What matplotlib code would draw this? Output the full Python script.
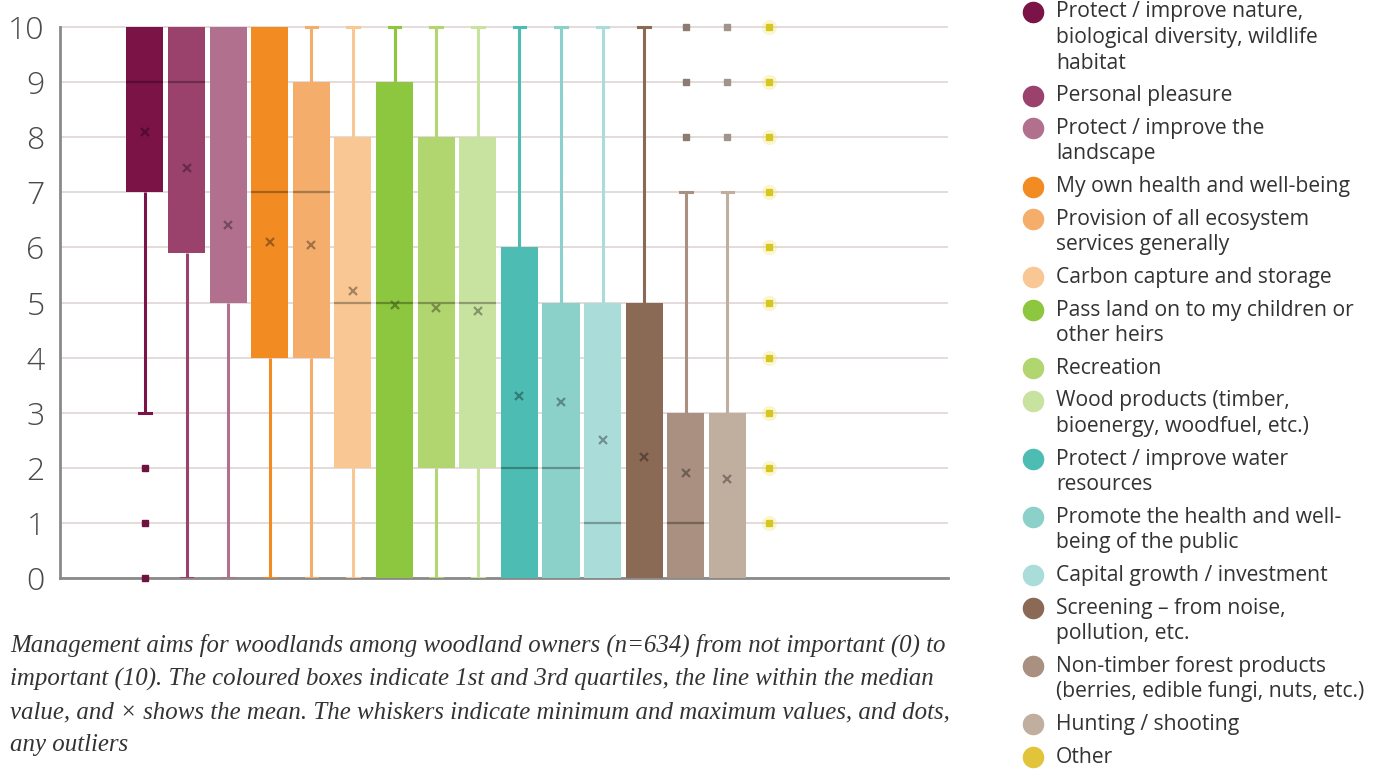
import matplotlib
matplotlib.use("Agg")
from matplotlib import pyplot as plt
from matplotlib.lines import Line2D
import matplotlib.colors as mcolors
import numpy as np

# management aims, one box per aim (scores 0-10)
aims = ["Protect / improve nature,\nbiological diversity, wildlife\nhabitat",
        "Personal pleasure",
        "Protect / improve the\nlandscape",
        "My own health and well-being",
        "Provision of all ecosystem\nservices generally",
        "Carbon capture and storage",
        "Pass land on to my children or\nother heirs",
        "Recreation",
        "Wood products (timber,\nbioenergy, woodfuel, etc.)",
        "Protect / improve water\nresources",
        "Promote the health and well-\nbeing of the public",
        "Capital growth / investment",
        "Screening \u2013 from noise,\npollution, etc.",
        "Non-timber forest products\n(berries, edible fungi, nuts, etc.)",
        "Hunting / shooting",
        "Other"]
aimColors = ["#7b1346", "#9a416c", "#b2708f", "#f28b22", "#f4ad6b", "#f8c794",
             "#8dc63f", "#b1d56f", "#c8e29f", "#4dbdb4", "#8bd1ca", "#aadcd9",
             "#8b6a55", "#a99080", "#c0ae9f", "#e2c43a"]

q1s = [7, 5.9, 5, 4, 4, 2, 0, 2, 2, 0, 0, 0, 0, 0, 0, 0]
q3s = [10, 10, 10, 10, 9, 8, 9, 8, 8, 6, 5, 5, 5, 3, 3, 0]
medians = [9, 9, 5, 7, 7, 5, 5, 5, 5, 2, 2, 1, 0, 1, 0, 0]
means = [8.1, 7.45, 6.4, 6.1, 6.05, 5.2, 4.95, 4.9, 4.85, 3.3, 3.2, 2.5, 2.2,
         1.9, 1.8, None]
whiskerLo = [3, 0, 0, 0, 0, 0, 0, 0, 0, 0, 0, 0, 0, 0, 0, 0]
whiskerHi = [10, 10, 10, 10, 10, 10, 10, 10, 10, 10, 10, 10, 10, 7, 7, 0]
outliers = [[0, 1, 2], [], [], [], [], [], [], [], [], [], [], [], [],
            [8, 9, 10], [8, 9, 10], [1, 2, 3, 4, 5, 6, 7, 8, 9, 10]]
flierColors = {0: "#6e1240", 13: "#8c7b72", 14: "#a0948c", 15: "#d6c61e"}

yTicks = list(range(0, 11))

caption = ("Management aims for woodlands among woodland owners (n=634) from not important (0) to\n"
           "important (10). The coloured boxes indicate 1st and 3rd quartiles, the line within the median\n"
           "value, and \u00d7 shows the mean. The whiskers indicate minimum and maximum values, and dots,\n"
           "any outliers")


def darker(color, f):
    r, g, b = mcolors.to_rgb(color)
    return (r * f, g * f, b * f)


W, H = 1373, 775
fig = plt.figure(figsize=(W / 100, H / 100), dpi=100)
ax = fig.add_axes([60 / W, 1 - 578 / H, 888 / W, (578 - 23.7) / H])

positions = np.arange(1, len(aims) + 1)
stats = []
for i in range(len(aims)):
    stats.append(dict(med=medians[i], q1=q1s[i], q3=q3s[i],
                      whislo=whiskerLo[i], whishi=whiskerHi[i],
                      fliers=outliers[i]))

bp = ax.bxp(stats, positions=positions, widths=0.89, patch_artist=True,
            showfliers=True, capwidths=0.28, manage_ticks=False, zorder=3)

for i, c in enumerate(aimColors):
    bp["boxes"][i].set(facecolor=c, edgecolor="none", linewidth=0)
    # only draw a median line where it sits inside the box
    if q1s[i] < medians[i] < q3s[i]:
        bp["medians"][i].set(color=darker(c, 0.6), linewidth=1.6, alpha=0.75)
    else:
        bp["medians"][i].set_visible(False)
    for w in bp["whiskers"][2 * i:2 * i + 2]:
        w.set(color=c, linewidth=2.2, solid_capstyle="butt")
    for k, cap in enumerate(bp["caps"][2 * i:2 * i + 2]):
        edge = whiskerLo[i] if k == 0 else whiskerHi[i]
        box_edge = q1s[i] if k == 0 else q3s[i]
        cap.set(color=c, linewidth=2.2, visible=edge != box_edge)
    fc = flierColors.get(i, c)
    bp["fliers"][i].set(marker="s", markersize=5, markerfacecolor=fc,
                        markeredgecolor=fc, linestyle="none", clip_on=False)
    if means[i] is not None:
        ax.plot(positions[i], means[i], marker="x", markersize=6,
                markeredgewidth=1.6, color=darker(c, 0.55), alpha=0.75,
                zorder=5)

# faint glow around the yellow dots
ax.plot(np.full(len(outliers[15]), positions[15]), outliers[15], "o",
        markersize=10, color="#f2e46a", alpha=0.25, zorder=2, clip_on=False)

ax.set_xlim(-1.04, 20.3)
ax.set_ylim(0, 10.06)
ax.set_yticks(yTicks)
ax.set_yticklabels([str(t) for t in yTicks], fontsize=23, color="#4a4a4a",
                   family="Open Sans", fontweight="light")
ax.tick_params(axis="y", length=0, pad=11)
ax.set_xticks([])
ax.grid(axis="y", color="#e4dada", linewidth=1.4, zorder=0)
ax.set_axisbelow(True)
for side in ["top", "right"]:
    ax.spines[side].set_visible(False)
for side in ["left", "bottom"]:
    ax.spines[side].set_color("#8a8a8a")
    ax.spines[side].set_linewidth(2)
ax.spines["left"].set_bounds(0, 10)

# legend built line by line on the right
y = 12
for label, c in zip(aims, aimColors):
    fig.add_artist(Line2D([1033 / W], [1 - y / H], marker="o", markersize=14.5,
                          color=c, linestyle="none", transform=fig.transFigure))
    lines = label.split("\n")
    for j, line in enumerate(lines):
        fig.text(1056 / W, 1 - (y + j * 25.6) / H, line, fontsize=15.2,
                 family="Open Sans", color="#333333", va="center", ha="left")
    y += len(lines) * 25.6 + 7

fig.text(10 / W, 1 - 634 / H, caption, fontsize=17.9, family="Liberation Serif",
         style="italic", color="#333333", va="top", ha="left", linespacing=1.6)

fig.savefig("out.png", dpi=100, facecolor="white")
